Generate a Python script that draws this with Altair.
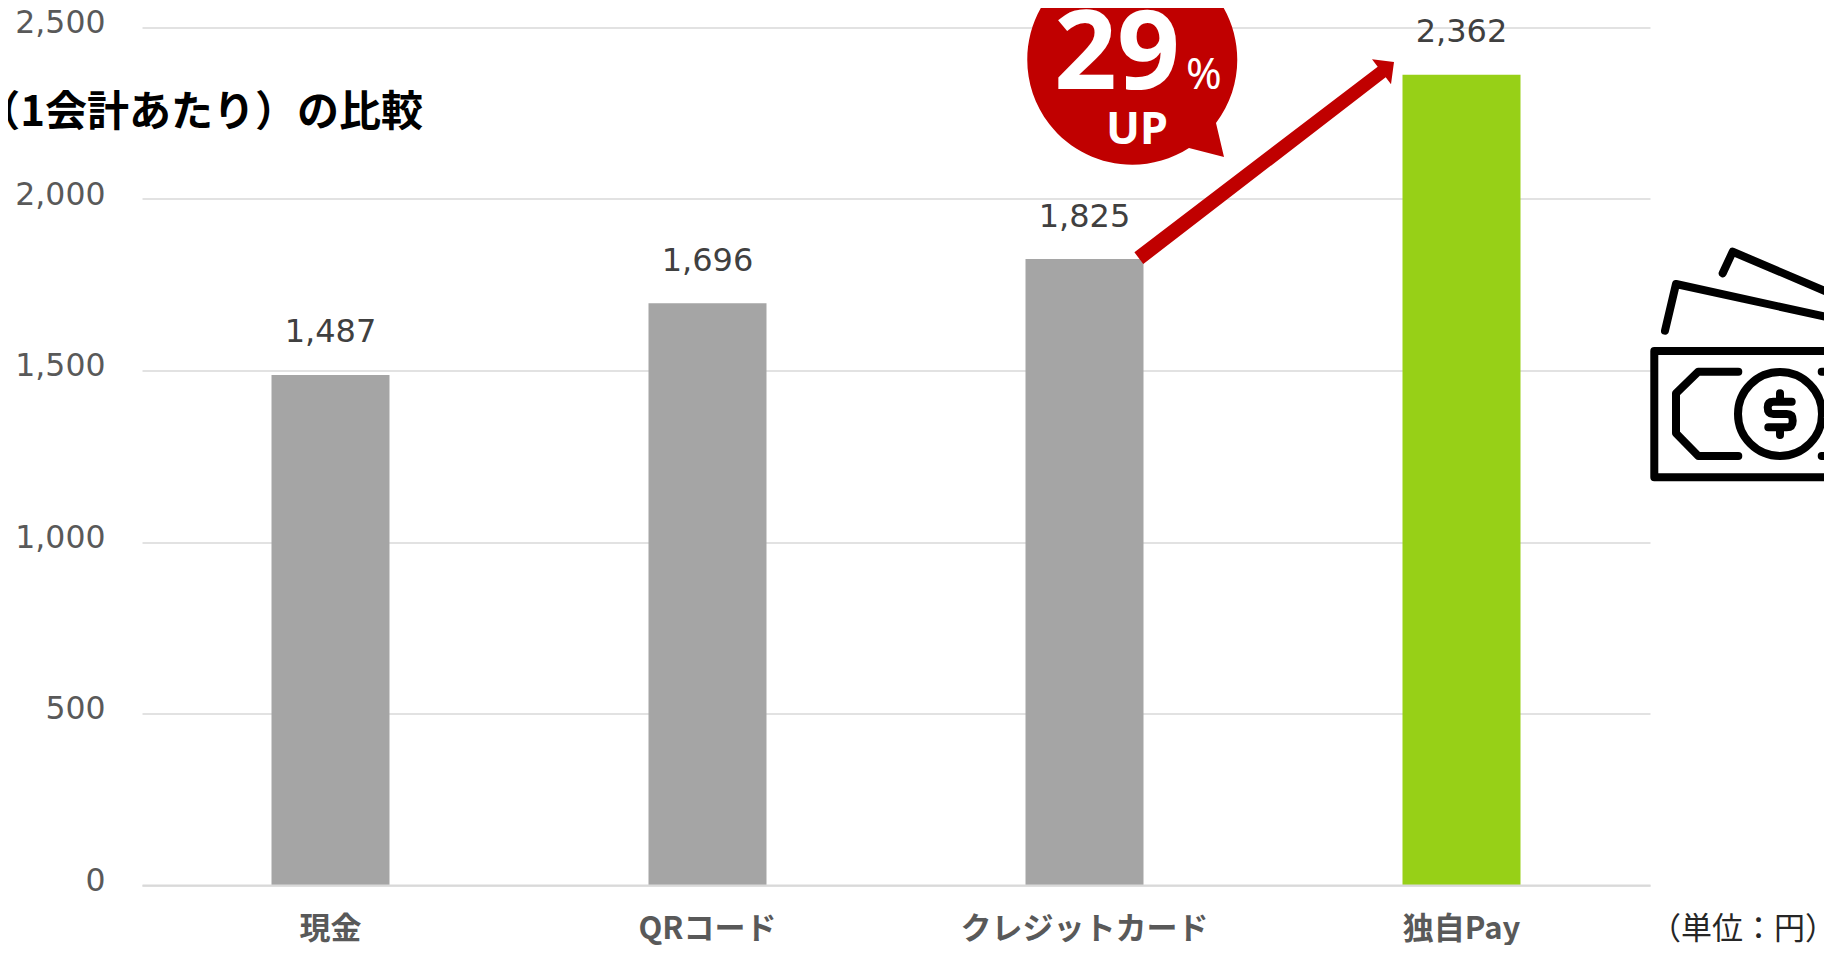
import altair as alt
import pandas as pd

categories = ["現金", "QRコード", "クレジットカード", "独自Pay"]
values = [1487, 1696, 1825, 2362]
bar_colors = ["#A5A5A5", "#A5A5A5", "#A5A5A5", "#97D017"]
y_ticks = [0, 500, 1000, 1500, 2000, 2500]

PLOT_LEFT, PLOT_TOP = 142.0, 27.5
PLOT_W, PLOT_H = 1508, 857.5
CJK = "Noto Sans CJK JP"
LATIN = "DejaVu Sans"

df = pd.DataFrame({"cat": categories, "val": values})
one = pd.DataFrame({"a": [0]})


def px(x):
    return x - PLOT_LEFT


def py(y):
    return y - PLOT_TOP


def n(v):
    return f"{v / 100:.4f}"


def make_path(cmds, cx, cy):
    out = []
    for c in cmds:
        op = c[0]
        if op in "ML":
            out.append(f"{op}{n(c[1] - cx)} {n(c[2] - cy)}")
        elif op == "Q":
            out.append(f"Q{n(c[1] - cx)} {n(c[2] - cy)} {n(c[3] - cx)} {n(c[4] - cy)}")
        elif op == "A":
            out.append(f"A{n(c[1])} {n(c[1])} 0 {c[2]} {c[3]} {n(c[4] - cx)} {n(c[5] - cy)}")
        elif op == "Z":
            out.append("Z")
    return " ".join(out)


def shape(cmds, cx, cy, **kw):
    return alt.Chart(one).mark_point(
        shape=make_path(cmds, cx, cy), size=40000, opacity=1, **kw
    ).encode(x=alt.value(px(cx)), y=alt.value(py(cy)))


def label(text, x, y, **kw):
    return alt.Chart(one).mark_text(text=text, **kw).encode(
        x=alt.value(px(x)), y=alt.value(py(y))
    )


x_enc = alt.X(
    "cat:N", sort=categories, title=None,
    scale=alt.Scale(paddingInner=0, paddingOuter=0),
    axis=alt.Axis(
        labelAngle=0, labelFont=CJK, labelFontSize=31, labelFontWeight="bold",
        labelColor="#595959", labelPadding=29, labelLimit=500, ticks=False,
        domainColor="#D9D9D9", domainWidth=2, zindex=1, grid=False,
    ),
)
y_enc = alt.Y(
    "val:Q", title=None, scale=alt.Scale(domain=[0, 2500], nice=False),
    axis=alt.Axis(
        values=y_ticks, format=",.0f", labelFont=LATIN, labelFontSize=31.5,
        labelColor="#595959", labelPadding=37, labelOffset=-4, ticks=False,
        domain=False, gridColor="#D9D9D9", gridWidth=1.5,
    ),
)

bars = alt.Chart(df).mark_bar(size=118).encode(
    x=x_enc, y=y_enc,
    color=alt.Color("cat:N", scale=alt.Scale(domain=categories, range=bar_colors), legend=None),
)
data_labels = alt.Chart(df).mark_text(
    font=LATIN, fontSize=32, color="#404040", baseline="alphabetic", dy=-32.5
).encode(x=alt.X("cat:N", sort=categories), y=alt.Y("val:Q"), text=alt.Text("val:Q", format=","))

arrow = shape(
    [("M", 1134.4, 252.3), ("L", 1377.7, 66.7), ("L", 1372, 59.3), ("L", 1394, 62),
     ("L", 1391, 84.3), ("L", 1385.7, 77.3), ("L", 1143.3, 264), ("Z",)],
    1260, 160, filled=True, color="#C00000", strokeWidth=0,
)
bubble = shape(
    [("M", 1216, 123), ("A", 105, 1, 0, 1189, 148), ("L", 1224, 157), ("Z",)],
    1132.5, 59, filled=True, color="#C00000", strokeWidth=0,
)
icon_cmds = [
    ("M", 1900, 351), ("L", 1654.3, 351), ("L", 1654.3, 477.3), ("L", 1900, 477.3),
    ("M", 1665, 330.7), ("L", 1676, 284), ("L", 1900, 333),
    ("M", 1722.7, 273.3), ("L", 1732.7, 251.7), ("L", 1900, 323),
    ("M", 1738.3, 371.7), ("L", 1698.3, 371.7), ("L", 1676, 393.3), ("L", 1676, 433.3),
    ("L", 1698.3, 456), ("L", 1738.3, 456),
    ("M", 1821.7, 371.7), ("L", 1900, 371.7),
    ("M", 1821.7, 456), ("L", 1900, 456),
    ("M", 1822, 414), ("A", 42, 1, 1, 1738, 414), ("A", 42, 1, 1, 1822, 414),
    ("M", 1791.7, 401.7), ("L", 1773.3, 401.7), ("Q", 1767.7, 401.7, 1767.7, 407.3),
    ("Q", 1767.7, 414, 1773.3, 414), ("L", 1786.7, 414), ("Q", 1792.7, 414, 1792.7, 420.7),
    ("Q", 1792.7, 427.3, 1786.7, 427.3), ("L", 1768.3, 427.3),
    ("M", 1780, 393.3), ("L", 1780, 400), ("M", 1780, 428.3), ("L", 1780, 435),
]
icon = shape(
    icon_cmds, 1760, 370, filled=False, stroke="#000000", strokeWidth=8,
    strokeCap="round", strokeJoin="round",
)

chart = alt.layer(
    bars,
    data_labels,
    arrow,
    bubble,
    label("29", 1117, 89, font="Noto Sans", fontSize=110, fontWeight="bold",
          color="#FFFFFF", baseline="alphabetic"),
    label("%", 1186, 89, font="Noto Sans", fontSize=43, color="#FFFFFF",
          align="left", baseline="alphabetic"),
    label("UP", 1137, 144, font="Noto Sans", fontSize=45, fontWeight="bold",
          color="#FFFFFF", baseline="alphabetic"),
    label("（1会計あたり）の比較", 423, 113, font=CJK, fontSize=42, fontWeight="bold",
          color="#000000", align="right", baseline="middle"),
    label("（単位：円）", 1743, 930, font=CJK, fontSize=31, color="#262626"),
    icon,
).properties(
    width=PLOT_W,
    height=PLOT_H,
    autosize=alt.AutoSizeParams(type="none"),
    padding={"left": 134, "top": 19.5, "right": 174, "bottom": 60},
    background="#FFFFFF",
).configure_view(stroke=None)

chart.save("out.html", embed_options={"renderer": "svg", "actions": False})
